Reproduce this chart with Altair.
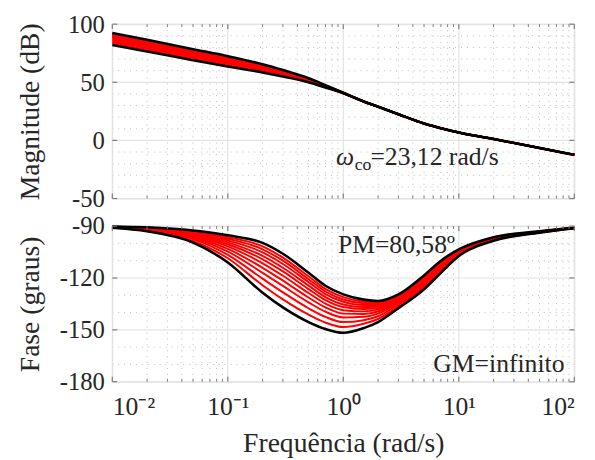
import altair as alt
import pandas as pd

# ---------------- data ----------------
freqs = [0.01, 0.02, 0.05, 0.1, 0.2, 0.3, 0.5, 0.7, 1, 1.5, 2, 3, 5, 7, 10, 20, 50, 100]

# phase (degrees), 12 curves: black extremes + 10 red in between
ph_black_lo = [-91.0, -93.0, -99.5, -111.0, -128.5, -137.0, -145.5, -149.5, -151.7, -149.0, -145.5, -137.5, -126.5, -117.0, -107.3, -98.5, -93.8, -91.2]
ph_red_01 = [-90.9, -92.7, -98.5, -108.6, -124.2, -132.4, -141.2, -145.8, -148.4, -146.5, -143.7, -136.3, -125.3, -116.0, -106.7, -98.2, -93.7, -91.2]
ph_red_02 = [-90.8, -92.4, -97.5, -106.6, -120.4, -128.3, -137.5, -142.5, -145.5, -144.4, -142.1, -135.3, -124.3, -115.0, -106.2, -97.9, -93.6, -91.1]
ph_red_03 = [-90.7, -92.1, -96.7, -104.7, -117.0, -124.6, -134.1, -139.5, -142.8, -142.4, -140.6, -134.3, -123.3, -114.2, -105.8, -97.7, -93.5, -91.1]
ph_red_04 = [-90.6, -91.9, -96.0, -103.2, -114.1, -121.5, -131.3, -137.0, -140.6, -140.8, -139.4, -133.5, -122.5, -113.5, -105.4, -97.5, -93.4, -91.1]
ph_red_05 = [-90.5, -91.6, -95.4, -101.7, -111.5, -118.7, -128.7, -134.8, -138.6, -139.3, -138.3, -132.8, -121.8, -112.9, -105.1, -97.3, -93.3, -91.1]
ph_red_06 = [-90.5, -91.5, -94.8, -100.5, -109.2, -116.2, -126.4, -132.8, -136.8, -137.9, -137.3, -132.1, -121.1, -112.3, -104.8, -97.2, -93.3, -91.1]
ph_red_07 = [-90.4, -91.3, -94.3, -99.4, -107.2, -114.1, -124.4, -131.0, -135.3, -136.8, -136.5, -131.6, -120.6, -111.8, -104.5, -97.0, -93.2, -91.1]
ph_red_08 = [-90.4, -91.1, -93.8, -98.3, -105.2, -111.9, -122.4, -129.3, -133.7, -135.6, -135.6, -131.0, -120.0, -111.3, -104.2, -96.9, -93.2, -91.0]
ph_red_09 = [-90.3, -91.0, -93.4, -97.3, -103.4, -110.0, -120.7, -127.8, -132.4, -134.6, -134.9, -130.5, -119.5, -110.9, -104.0, -96.8, -93.1, -91.0]
ph_red_10 = [-90.3, -90.9, -93.0, -96.4, -101.7, -108.2, -119.0, -126.3, -131.1, -133.7, -134.2, -130.1, -119.1, -110.5, -103.8, -96.6, -93.1, -91.0]
ph_black_hi = [-90.2, -90.7, -92.5, -95.3, -99.7, -106.0, -117.0, -124.5, -129.5, -132.5, -133.3, -129.5, -118.5, -110.0, -103.5, -96.5, -93.0, -91.0]

# magnitude (dB): values for 0.01 .. 1 differ per curve, above 1 rad/s they coincide
mag_black_lo = [82.0, 76.5, 69.0, 63.5, 58.5, 55.0, 50.0, 45.5, 40.5]
mag_red_01 = [83.6, 78.0, 70.4, 64.9, 59.6, 55.8, 50.5, 45.8, 40.6]
mag_red_02 = [84.9, 79.3, 71.7, 66.0, 60.5, 56.5, 51.0, 46.1, 40.6]
mag_red_03 = [86.2, 80.5, 72.8, 67.1, 61.3, 57.2, 51.4, 46.3, 40.7]
mag_red_04 = [87.3, 81.5, 73.8, 68.0, 62.0, 57.8, 51.8, 46.5, 40.8]
mag_red_05 = [88.2, 82.4, 74.6, 68.8, 62.6, 58.2, 52.1, 46.7, 40.8]
mag_red_06 = [89.0, 83.2, 75.4, 69.5, 63.2, 58.7, 52.3, 46.8, 40.8]
mag_red_07 = [89.8, 83.9, 76.0, 70.2, 63.7, 59.1, 52.6, 47.0, 40.9]
mag_red_08 = [90.5, 84.6, 76.7, 70.8, 64.2, 59.5, 52.8, 47.1, 40.9]
mag_red_09 = [91.1, 85.2, 77.3, 71.3, 64.6, 59.8, 53.0, 47.2, 40.9]
mag_red_10 = [91.8, 85.8, 77.8, 71.9, 65.0, 60.1, 53.3, 47.4, 41.0]
mag_black_hi = [92.5, 86.5, 78.5, 72.5, 65.5, 60.5, 53.5, 47.5, 41.0]
mag_tail = [33.5, 29.0, 22.5, 14.5, 10.5, 6.8, 1.2, -6.5, -12.4]

# axis ticks
x_major = [0.01, 0.1, 1, 10, 100]
x_minor = [0.02, 0.03, 0.04, 0.05, 0.06, 0.07, 0.08, 0.09,
           0.2, 0.3, 0.4, 0.5, 0.6, 0.7, 0.8, 0.9,
           2, 3, 4, 5, 6, 7, 8, 9,
           20, 30, 40, 50, 60, 70, 80, 90]
mag_major = [100, 50, 0, -50]
mag_minor = [90, 80, 70, 60, 40, 30, 20, 10, -10, -20, -30, -40]
ph_major = [-90, -120, -150, -180]
ph_minor = [-100, -110, -130, -140, -160, -170]

# ---------------- build tables ----------------
ph_red = [ph_red_01, ph_red_02, ph_red_03, ph_red_04, ph_red_05,
          ph_red_06, ph_red_07, ph_red_08, ph_red_09, ph_red_10]
ph_black = [ph_black_lo, ph_black_hi]
mag_red = [mag_red_01, mag_red_02, mag_red_03, mag_red_04, mag_red_05,
           mag_red_06, mag_red_07, mag_red_08, mag_red_09, mag_red_10]
mag_black = [mag_black_lo, mag_black_hi]


def table(curves, tail=None):
    rows = []
    for i, c in enumerate(curves):
        vals = list(c) + (list(tail) if tail else [])
        for j, (f, v) in enumerate(zip(freqs, vals)):
            rows.append({"f": f, "v": v, "c": i, "o": j})
    return pd.DataFrame(rows)


df_ph_red = table(ph_red)
df_ph_black = table(ph_black)
df_mag_red = table(mag_red, mag_tail)
df_mag_black = table(mag_black, mag_tail)

W, H1, H2 = 469, 177, 158
FONT = "Liberation Serif"
TXT = "#262626"
BOX = "#7f7f7f"

xs = alt.Scale(type="log", domain=[0.01, 100], nice=False)

xaxis_bottom = alt.Axis(values=x_major, tickSize=0, domain=False, grid=False,
                        labelExpr="datum.value < 0.05 ? '10⁻²' : datum.value < 0.5 ? '10⁻¹' : datum.value < 5 ? '10⁰' : datum.value < 50 ? '10¹' : '10²'",
                        labelFont=FONT, labelFontSize=26, labelColor=TXT, labelPadding=12,
                        title="Frequência (rad/s)", titleFont=FONT, titleFontSize=28,
                        titleFontWeight="normal", titleColor=TXT, titleY=63, titleBaseline="middle")


def panel(df_red, df_black, ydom, ymaj, ymin, H, ytitle, xaxis):
    ys = alt.Scale(domain=ydom, nice=False, zero=False)
    yaxis = alt.Axis(values=ymaj, title=ytitle, tickSize=0, domain=False, grid=False,
                     labelExpr="replace(datum.label, '−', '-')",
                     labelFont=FONT, labelFontSize=25, labelColor=TXT, labelPadding=8,
                     titleFont=FONT, titleFontSize=28, titleFontWeight="normal", titleColor=TXT,
                     titleX=-83, titleBaseline="middle", titleAngle=270)

    def X(field):
        return alt.X(field, scale=xs, axis=xaxis)

    def Y(field):
        return alt.Y(field, scale=ys, axis=yaxis)

    def vrules(vals, y0, y1, **kw):
        return alt.Chart(pd.DataFrame({"g": vals})).mark_rule(**kw).encode(
            x=X("g:Q"), y=alt.value(y0), y2=alt.value(y1))

    def hrules(vals, x0, x1, **kw):
        return alt.Chart(pd.DataFrame({"g": vals})).mark_rule(**kw).encode(
            y=Y("g:Q"), x=alt.value(x0), x2=alt.value(x1))

    minor_style = dict(color="#bdbdbd", strokeWidth=1, strokeDash=[1, 5])
    major_style = dict(color="#e3e3e3", strokeWidth=1.2)
    gx_min = vrules(x_minor, 0, H, **minor_style)
    gy_min = hrules(ymin, 0, W, **minor_style)
    gx_maj = vrules(x_major, 0, H, **major_style)
    gy_maj = hrules(ymaj, 0, W, **major_style)
    # inward ticks (MATLAB style box)
    tx_top = vrules(x_minor, 0, 3, color=BOX, strokeWidth=1)
    tx_bot = vrules(x_minor, H, H - 3, color=BOX, strokeWidth=1)
    tX_top = vrules(x_major, 0, 5, color=BOX, strokeWidth=1.2)
    tX_bot = vrules(x_major, H, H - 5, color=BOX, strokeWidth=1.2)
    ty_l = hrules(ymaj, 0, 5, color=BOX, strokeWidth=1.2)
    ty_r = hrules(ymaj, W, W - 5, color=BOX, strokeWidth=1.2)

    red = alt.Chart(df_red).mark_line(color="#ff0000", strokeWidth=2, interpolate="monotone").encode(
        x=X("f:Q"), y=Y("v:Q"), detail="c:N", order="o:Q")
    black = alt.Chart(df_black).mark_line(color="#000000", strokeWidth=2.6, interpolate="monotone").encode(
        x=X("f:Q"), y=Y("v:Q"), detail="c:N", order="o:Q")
    return [gx_min, gy_min, gx_maj, gy_maj, red, black,
            tx_top, tx_bot, tX_top, tX_bot, ty_l, ty_r]


top_layers = panel(df_mag_red, df_mag_black, [-50, 100], mag_major, mag_minor, H1,
                   "Magnitude (dB)", None)
bot_layers = panel(df_ph_red, df_ph_black, [-180, -90], ph_major, ph_minor, H2,
                   "Fase (graus)", xaxis_bottom)

txt_style = dict(font=FONT, color=TXT, baseline="alphabetic")


def label(t, x, y, size=26, **kw):
    return alt.Chart(pd.DataFrame({"t": [t]})).mark_text(
        fontSize=size, **txt_style, **kw).encode(text="t:N", x=alt.value(x), y=alt.value(y))


t_omega = label("ω", 227, 143, fontStyle="italic", align="left")
t_co = label("co", 246, 148, size=18, align="left")
t_wco = label("=23,12 rad/s", 262, 143, align="left")
t_pm = label("PM=80,58º", 229, 27, align="left")
t_gm = label("GM=infinito", 459, 148, align="right")

top = alt.layer(*top_layers, t_omega, t_co, t_wco).properties(width=W, height=H1)
bot = alt.layer(*bot_layers, t_pm, t_gm).properties(width=W, height=H2)

chart = alt.vconcat(top, bot, spacing=1).properties(
    padding={"left": 16, "top": 8, "right": 15, "bottom": 5}
).configure_view(stroke=BOX, strokeWidth=1.2).configure(
    font=FONT, background="white")

chart.save("out.html", embed_options={"renderer": "svg", "actions": False})
